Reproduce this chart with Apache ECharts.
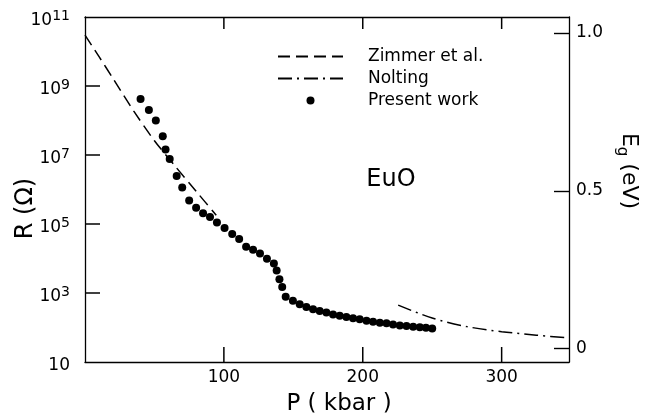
<!DOCTYPE html>
<html><head><meta charset="utf-8">
<script src="https://cdn.jsdelivr.net/npm/echarts@6.0.0/dist/echarts.min.js"></script>
<style>html,body{margin:0;padding:0;background:#fff}#c{width:648px;height:419px}</style>
</head><body><div id="c"></div>
<script>
// Present work: pressure (kbar) and resistance (ohm)
const presentP = [40, 46, 51, 56, 58, 61, 66, 70, 75, 80, 85, 90, 95, 100.5, 106, 111, 116, 121, 126, 131, 136, 138, 140, 142, 144.5,
  149.7, 154.6, 159.4, 164.2, 169, 173.8, 178.6, 183.4, 188.2, 193, 197.8, 202.7, 207.4, 212.3, 217.1, 221.8, 226.7, 231.5, 236.3, 241.1, 245.5, 250];
const presentR = [4.2e8, 2.0e8, 1.0e8, 3.5e7, 1.45e7, 7.6e6, 2.45e6, 1.15e6, 4.8e5, 2.95e5, 2.05e5, 1.6e5, 1.1e5, 7.6e4, 5.1e4, 3.7e4, 2.2e4, 1.8e4, 1.4e4, 9.8e3, 7.2e3, 4.5e3, 2.5e3, 1.5e3, 780,
  600, 470, 390, 340, 300, 270, 240, 220, 200, 186, 174, 158, 148, 138, 132, 123, 115, 110, 105, 102, 98, 93];
// Zimmer et al. (resistance)
const zimmerP = [0, 10, 20, 35, 50, 65, 80, 94.5];
const zimmerR = [3.0e10, 7.2e9, 1.7e9, 1.9e8, 2.6e7, 4.7e6, 8.9e5, 1.8e5];
// Nolting (energy gap, eV)
const noltingP = [225.5, 250, 275, 300, 325, 348.5];
const noltingEg = [0.138, 0.097, 0.070, 0.054, 0.043, 0.034];
// tick values / labels
const xTicks = [100, 200, 300];
const rTicks = [10, 1e3, 1e5, 1e7, 1e9, 1e11];
const eTicks = [0, 0.5, 1.0];

const FONT = 'DejaVu Sans';
const BLACK = '#000';
const zip = (a, b) => a.map((v, i) => [v, b[i]]);
const lineAx = () => ({ show: true, onZero: false, lineStyle: { color: BLACK, width: 1.3 } });
const hiddenSym = { color: 'rgba(0,0,0,0)', borderWidth: 0, opacity: 0 };
const xMax = 348.5;
const euoLabel = {
  type: 'text', x: 391, y: 180,
  style: { text: 'EuO', fontFamily: FONT, fontSize: 24, fill: BLACK, align: 'center', verticalAlign: 'middle' }
};

const chart = echarts.init(document.getElementById('c'), null, { renderer: 'canvas' });
chart.setOption({
  animation: false,
  backgroundColor: '#fff',
  textStyle: { fontFamily: FONT, color: BLACK },
  grid: { left: 85, right: 79, top: 17, bottom: 57, containLabel: false, outerBoundsMode: 'none' },
  legend: {
    orient: 'vertical', left: 272, top: 43,
    itemWidth: 65, itemHeight: 8, itemGap: 5,
    selectedMode: false,
    textStyle: { fontFamily: FONT, fontSize: 17, color: BLACK, padding: [0, 0, 0, 20] },
    data: [
      { name: 'Zimmer et al.', itemStyle: hiddenSym },
      { name: 'Nolting', itemStyle: hiddenSym },
      { name: 'Present work' }
    ]
  },
  xAxis: [{
    type: 'value', min: 0, max: xMax, interval: 100, position: 'bottom',
    axisLine: lineAx(),
    axisTick: { show: false },
    axisLabel: {
      fontFamily: FONT, fontSize: 17, color: BLACK, margin: 7, showMinLabel: false, showMaxLabel: false,
      formatter: v => xTicks.indexOf(v) >= 0 ? String(v) : ''
    },
    splitLine: { show: false },
    name: 'P ( kbar )', nameLocation: 'middle', nameGap: 31, nameMoveOverlap: false,
    nameTextStyle: { fontFamily: FONT, fontSize: 23, color: BLACK, padding: [0, 0, 0, 24] }
  }, {
    // top frame line
    type: 'value', min: 0, max: xMax, interval: 100, position: 'top',
    axisLine: lineAx(),
    axisTick: { show: false },
    axisLabel: { show: false },
    splitLine: { show: false }
  }],
  yAxis: [{
    type: 'log', logBase: 10, min: 10, max: 1e11, position: 'left',
    axisLine: lineAx(),
    axisTick: { show: false },
    axisLabel: {
      customValues: rTicks, margin: 15, fontFamily: FONT, fontSize: 17, color: BLACK, lineHeight: 24,
      padding: [8, 0, 0, 0],
      formatter: v => { const e = Math.round(Math.log10(v)); return e === 1 ? '10' : '10{sup|' + e + '}'; },
      rich: { sup: { fontFamily: FONT, fontSize: 14, color: BLACK, verticalAlign: 'top', lineHeight: 24 } }
    },
    splitLine: { show: false },
    name: 'R (Ω)', nameLocation: 'middle', nameGap: 47, nameMoveOverlap: false,
    nameTextStyle: { fontFamily: FONT, fontSize: 24, color: BLACK, padding: [0, 38, 0, 0] }
  }, {
    type: 'value', min: -0.042, max: 1.05, position: 'right',
    axisLine: lineAx(),
    axisTick: { show: true, inside: true, length: 15, customValues: eTicks, lineStyle: { color: BLACK, width: 1.4 } },
    axisLabel: {
      customValues: eTicks, margin: 7, fontFamily: FONT, fontSize: 17, color: BLACK,
      formatter: v => v === 0 ? '0' : v.toFixed(1)
    },
    splitLine: { show: false },
    name: 'E{sub|g} (eV)', nameLocation: 'middle', nameGap: 45, nameRotate: -90, nameMoveOverlap: false,
    nameTextStyle: {
      fontFamily: FONT, fontSize: 22, color: BLACK, lineHeight: 30, padding: [0, 37, 0, 0],
      rich: { sub: { fontFamily: FONT, fontSize: 15, color: BLACK, verticalAlign: 'bottom', lineHeight: 30 } }
    }
  }],
  graphic: [euoLabel],
  series: [{
    name: 'Zimmer et al.', type: 'line', xAxisIndex: 0, yAxisIndex: 0,
    data: zip(zimmerP, zimmerR), smooth: 0.3, symbol: 'none',
    lineStyle: { color: BLACK, width: 1.5, type: [12, 6] }, itemStyle: { color: BLACK }
  }, {
    name: 'Nolting', type: 'line', xAxisIndex: 0, yAxisIndex: 1,
    data: zip(noltingP, noltingEg), smooth: 0.3, symbol: 'none',
    lineStyle: { color: BLACK, width: 1.5, type: [14, 5, 2, 5] }, itemStyle: { color: BLACK }
  }, {
    name: 'Present work', type: 'scatter', xAxisIndex: 0, yAxisIndex: 0,
    data: zip(presentP, presentR), symbol: 'circle', symbolSize: 8,
    itemStyle: { color: BLACK, opacity: 1 }
  }]
});

// Inward tick marks on the bottom, top and left frame, placed through the series' own cartesian scales
const tickEls = [];
const tick = (x1, y1, x2, y2) => tickEls.push({
  type: 'line', z: 100, silent: true,
  shape: { x1, y1, x2, y2 }, style: { stroke: BLACK, lineWidth: 1.5 }
});
const toPx = (x, r) => chart.convertToPixel({ seriesIndex: 2 }, [x, r]);
const yBottom = toPx(0, rTicks[0])[1];
const yTop = toPx(0, rTicks[rTicks.length - 1])[1];
const xLeft = toPx(0, rTicks[0])[0];
xTicks.forEach(v => {
  const px = toPx(v, rTicks[0])[0];
  tick(px, yBottom, px, yBottom - 15);
  tick(px, yTop, px, yTop + 12);
});
rTicks.slice(1, -1).forEach(r => {
  const py = toPx(0, r)[1];
  tick(xLeft, py, xLeft + 15, py);
});
chart.setOption({ graphic: [euoLabel].concat(tickEls) });
</script>
</body></html>
